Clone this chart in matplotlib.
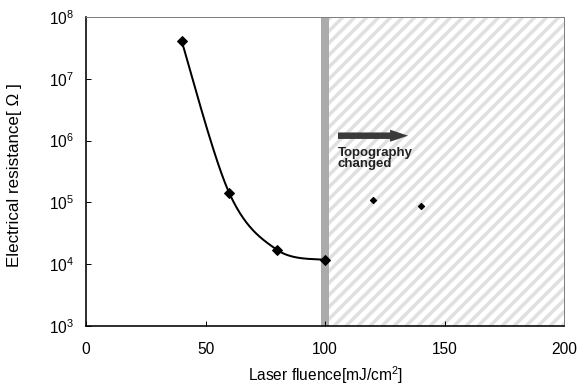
import numpy as np
import matplotlib
matplotlib.use("Agg")
import matplotlib.pyplot as plt
from matplotlib.ticker import LogLocator, NullLocator

# ---- data ----
fluence = [40, 60, 80, 100]
resistance = [4.1e7, 1.4e5, 1.7e4, 1.17e4]
fluence_changed = [120, 140]
resistance_changed = [1.1e5, 8.9e4]
xticks = [0, 50, 100, 150, 200]
band_lo, band_hi = 98.3, 101.7
arrow_x = [104.6, 135.6]
arrow_y = 1.2e6
note_text = "Topography\nchanged"

plt.rcParams['font.family'] = ['Liberation Sans', 'DejaVu Sans']
plt.rcParams['mathtext.fontset'] = 'custom'
plt.rcParams['mathtext.rm'] = 'Liberation Sans'
plt.rcParams['mathtext.it'] = 'Liberation Sans:italic'
plt.rcParams['mathtext.bf'] = 'Liberation Sans:bold'
plt.rcParams['hatch.linewidth'] = 3.5

DPI = 72
fig = plt.figure(figsize=(580 / DPI, 387 / DPI), dpi=DPI)
ax = fig.add_axes([86 / 580, 61 / 387, 478 / 580, 309 / 387])

ax.set_xlim(0, 200)
ax.set_yscale('log')
ax.set_ylim(1e3, 1e8)

# shaded regions
ax.axvspan(band_lo, band_hi, facecolor='#ababab', edgecolor='none', zorder=1)
ax.axvspan(band_hi, 200, facecolor='white', edgecolor='#e0e0e0', hatch='//',
           linewidth=0, zorder=0.5)

# smooth curve (Excel-like Bezier through points, in x / log10 y space)
px = np.array(fluence, float)
py = np.log10(resistance)
n = len(px)
cx, cy = [], []
for i in range(n - 1):
    p0 = np.array([px[i], py[i]])
    p1 = np.array([px[i + 1], py[i + 1]])
    pm = np.array([px[i - 1], py[i - 1]]) if i > 0 else p0
    pp = np.array([px[i + 2], py[i + 2]]) if i + 2 < n else p1
    b1 = p0 + (p1 - pm) / 6.0
    b2 = p1 - (pp - p0) / 6.0
    t = np.linspace(0, 1, 60)[:, None]
    seg = ((1 - t) ** 3) * p0 + 3 * ((1 - t) ** 2) * t * b1 + 3 * (1 - t) * t ** 2 * b2 + t ** 3 * p1
    cx.extend(seg[:, 0]); cy.extend(seg[:, 1])
ax.plot(cx, 10 ** np.array(cy), color='black', lw=2, zorder=3)
ax.plot(fluence, resistance, linestyle='none', marker='D', color='black',
        markersize=7.5, zorder=4)
ax.plot(fluence_changed, resistance_changed, linestyle='none', marker='D',
        color='black', markersize=4.5, zorder=4)

# arrow + text
ax.annotate('', xy=(arrow_x[1], arrow_y), xytext=(arrow_x[0], arrow_y),
            arrowprops=dict(arrowstyle='simple,head_length=1.8,head_width=1.2,tail_width=0.65',
                            mutation_scale=10, color='#3a3a3a', lw=0), zorder=5)
ax.text(105.4, 8.0e5, note_text, fontsize=13.3, fontweight='bold', color='#222222',
        va='top', ha='left', linespacing=0.95, zorder=5)

# axes styling
ax.set_xticks(xticks)
ax.xaxis.set_minor_locator(NullLocator())
ax.yaxis.set_major_locator(LogLocator(base=10, numticks=10))
ax.yaxis.set_minor_locator(NullLocator())
ax.tick_params(direction='in', length=5, width=1, labelsize=15.5, colors='black')
ax.tick_params(axis='x', pad=16)
ax.tick_params(axis='y', pad=12)
for s in ['left', 'bottom']:
    ax.spines[s].set_linewidth(1.6)
    ax.spines[s].set_color('black')
for s in ['top', 'right']:
    ax.spines[s].set_linewidth(1)
    ax.spines[s].set_color('#7f7f7f')

ax.set_xlabel('Laser fluence[mJ/cm$^2$]', fontsize=15.5)
ax.set_ylabel('Electrical resistance[ Ω ]', fontsize=17)
ax.yaxis.set_label_coords(-64 / 478, 0.49)
ax.xaxis.set_label_coords(0.5, -38 / 309)

fig.savefig('out.png', dpi=DPI)
